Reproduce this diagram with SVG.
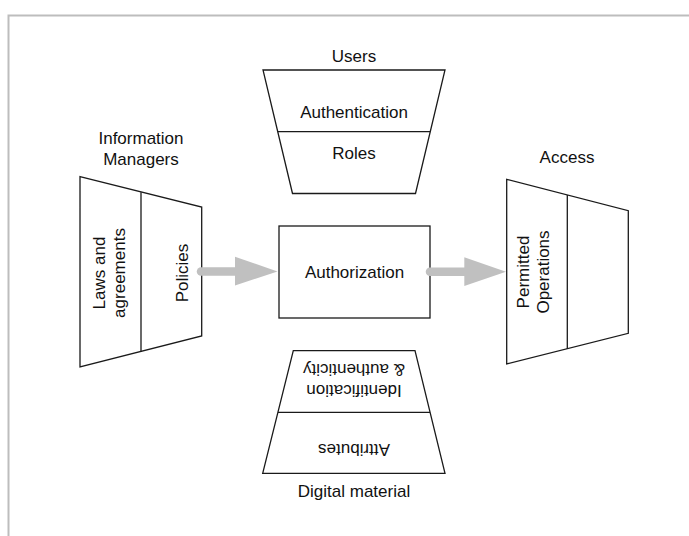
<svg xmlns="http://www.w3.org/2000/svg" width="689" height="536" viewBox="0 0 689 536">
<defs>
<style>
.shape{fill:#fff;stroke:#1a1a1a;stroke-width:1.3;stroke-linejoin:miter}
.div{fill:none;stroke:#1a1a1a;stroke-width:1.3}
.t{font-family:"Liberation Sans",Arial,sans-serif;font-size:17px;fill:#111;text-anchor:middle}
.frame{fill:none;stroke:#bdbdbd;stroke-width:2}
.shaft{stroke:#c0c0c0;stroke-width:8.5;stroke-linecap:round;fill:none}
.head{fill:#c0c0c0;stroke:none}
</style>
</defs>
<rect width="689" height="536" fill="#fff"/>
<path class="frame" d="M8.5 536 V15.5 H689"/>

<g id="users">
<text class="t" x="354" y="61.5">Users</text>
<path class="shape" d="M263 70 H445 L415.5 193.5 H292.5 Z"/>
<line class="div" x1="277.7" y1="131.7" x2="430.3" y2="131.7"/>
<text class="t" x="354" y="117.5">Authentication</text>
<text class="t" x="354" y="158.5">Roles</text>
</g>

<g id="info-managers">
<text class="t" x="141" y="144">Information</text>
<text class="t" x="141" y="164.5">Managers</text>
<path class="shape" d="M80 176.7 L201.7 207 V336 L80 367 Z"/>
<line class="div" x1="141" y1="192.3" x2="141" y2="351.7"/>
<text class="t" transform="rotate(-90 111 273)" x="111" y="267">Laws and</text>
<text class="t" transform="rotate(-90 111 273)" x="111" y="287">agreements</text>
<text class="t" transform="rotate(-90 182 273)" x="182" y="279">Policies</text>
</g>

<g id="authorization">
<rect class="shape" x="279" y="226" width="151" height="92"/>
<text class="t" x="354.5" y="277.5">Authorization</text>
</g>

<g id="access">
<text class="t" x="567" y="163">Access</text>
<path class="shape" d="M506.7 179.3 L628.3 210.7 V333.3 L506.7 364 Z"/>
<line class="div" x1="567.3" y1="195" x2="567.3" y2="349"/>
<text class="t" transform="rotate(-90 535 272)" x="535" y="266">Permitted</text>
<text class="t" transform="rotate(-90 535 272)" x="535" y="286">Operations</text>
</g>

<g id="digital-material">
<path class="shape" d="M293.3 350.7 H415 L445 473.3 H262.7 Z"/>
<line class="div" x1="278" y1="412.3" x2="430" y2="412.3"/>
<g transform="rotate(180 354 380)">
<text class="t" x="354" y="375.5">Identification</text>
<text class="t" x="354" y="396">&amp; authenticity</text>
</g>
<text class="t" transform="rotate(180 354 450)" x="354" y="456">Attributes</text>
<text class="t" x="354" y="497">Digital material</text>
</g>

<g id="connectors">
<line class="shaft" x1="201" y1="271.5" x2="238" y2="271.5"/>
<polygon class="head" points="235,256.7 277.5,271.5 235,285.5"/>
<line class="shaft" x1="430" y1="271.7" x2="467" y2="271.7"/>
<polygon class="head" points="464.3,257.3 506,271.7 464.3,286"/>
</g>
</svg>
